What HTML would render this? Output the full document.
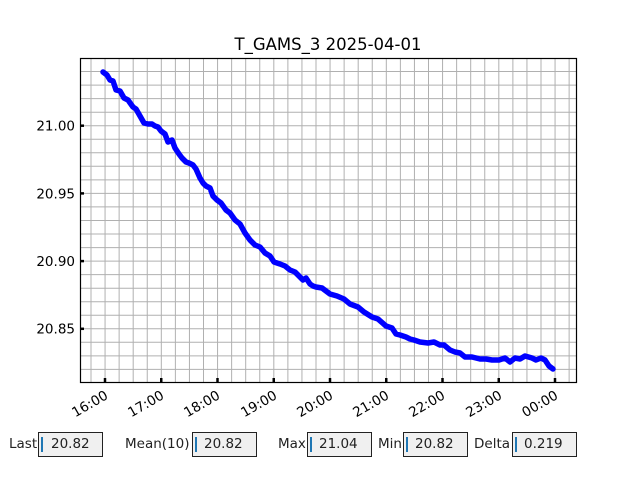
<!DOCTYPE html>
<html><head><style>
body{margin:0;background:#fff;width:640px;height:480px;overflow:hidden;font-family:"DejaVu Sans","Liberation Sans",sans-serif}
</style></head><body>
<svg width="640" height="480" xmlns="http://www.w3.org/2000/svg" style="position:absolute;left:0;top:0">
<rect width="640" height="480" fill="#fff"/>
<path stroke="#b0b0b0" stroke-width="1" fill="none" d="
M91,58V382 M105.06,58V382 M119.13,58V382 M133.19,58V382 M147.25,58V382 M161.31,58V382 M175.38,58V382 M189.44,58V382 M203.5,58V382 M217.56,58V382 M231.63,58V382 M245.69,58V382 M259.75,58V382 M273.81,58V382 M287.88,58V382 M301.94,58V382 M316,58V382 M330.06,58V382 M344.13,58V382 M358.19,58V382 M372.25,58V382 M386.31,58V382 M400.38,58V382 M414.44,58V382 M428.5,58V382 M442.56,58V382 M456.63,58V382 M470.69,58V382 M484.75,58V382 M498.81,58V382 M512.88,58V382 M526.94,58V382 M541,58V382 M555.06,58V382 M569.13,58V382
M80,71.5H576 M80,85.1H576 M80,98.6H576 M80,112.2H576 M80,125.7H576 M80,139.2H576 M80,152.8H576 M80,166.3H576 M80,179.9H576 M80,193.4H576 M80,206.9H576 M80,220.5H576 M80,234H576 M80,247.6H576 M80,261.1H576 M80,274.6H576 M80,288.2H576 M80,301.7H576 M80,315.3H576 M80,328.8H576 M80,342.3H576 M80,355.9H576 M80,369.4H576"/>
<g stroke="#000" stroke-width="2.5">
<line x1="80" y1="125.7" x2="84" y2="125.7"/><line x1="80" y1="193.4" x2="84" y2="193.4"/>
<line x1="80" y1="261.1" x2="84" y2="261.1"/><line x1="80" y1="328.8" x2="84" y2="328.8"/>
<line x1="105" y1="382" x2="105" y2="378"/><line x1="161.25" y1="382" x2="161.25" y2="378"/>
<line x1="217.5" y1="382" x2="217.5" y2="378"/><line x1="273.75" y1="382" x2="273.75" y2="378"/>
<line x1="330" y1="382" x2="330" y2="378"/><line x1="386.25" y1="382" x2="386.25" y2="378"/>
<line x1="442.5" y1="382" x2="442.5" y2="378"/><line x1="498.75" y1="382" x2="498.75" y2="378"/>
<line x1="555" y1="382" x2="555" y2="378"/>
</g>
<polyline fill="none" stroke="#0000ff" stroke-width="5.5" stroke-linejoin="round" stroke-linecap="round"
points="103,72 107,75 110,80 113,81 116,90 120,91 124,98 128,100 133,107 136,109 140,116 144,123 148,124 152,124 155,126 158,127 161,131 165,134 168,142 172,140 175,148 179,154 182,158 186,162 189,163 193,165 196,169 200,178 203,183 206,186 210,188 213,196 217,200 221,203 226,210 230,213 235,220 240,224 245,233 250,240 255,245 260,247 265,253 270,256 274,262 280,264 285,266 290,270 295,272 299,276 303,280 306,278 310,284 313,286 316,287 322,288 330,294 337,296 344,299 350,304 358,307 364,312 372,317 378,319 386,326 392,328 396,334 400,335 406,337 410,339 414,340 420,342 428,343 434,342 440,345 444,345 450,350 455,352 460,353 465,357 472,357 480,359 486,359 492,360 499,360 505,358 510,362 515,358 520,359 525,356 532,358 536,360 541,358 545,360 549,366 553,369"/>
<rect x="80.5" y="58.5" width="496" height="324" fill="none" stroke="#000" stroke-width="1.2"/>
<g font-size="13.5" fill="#000" text-anchor="end">
<text x="75" y="130.5">21.00</text><text x="75" y="198.5">20.95</text>
<text x="75" y="266">20.90</text><text x="75" y="333.5">20.85</text>
</g>
<text x="328" y="50" font-size="16.5" text-anchor="middle">T_GAMS_3 2025-04-01</text>
<g font-size="13.5" text-anchor="end">
<text transform="translate(109,398) rotate(-30)">16:00</text>
<text transform="translate(165,398) rotate(-30)">17:00</text>
<text transform="translate(221,398) rotate(-30)">18:00</text>
<text transform="translate(278,398) rotate(-30)">19:00</text>
<text transform="translate(334,398) rotate(-30)">20:00</text>
<text transform="translate(390,398) rotate(-30)">21:00</text>
<text transform="translate(446,398) rotate(-30)">22:00</text>
<text transform="translate(503,398) rotate(-30)">23:00</text>
<text transform="translate(559,398) rotate(-30)">00:00</text>
</g>
<g font-size="13.5" fill="#222">
<text x="9" y="448">Last</text>
<text x="125" y="448">Mean(10)</text>
<text x="278" y="448">Max</text>
<text x="378" y="448">Min</text>
<text x="474" y="448">Delta</text>
</g>
<g fill="#f0f0f0" stroke="#222" stroke-width="1">
<rect x="38.5" y="432.5" width="64" height="24"/>
<rect x="192.5" y="432.5" width="64" height="24"/>
<rect x="307.5" y="432.5" width="64" height="24"/>
<rect x="403.5" y="432.5" width="64" height="24"/>
<rect x="512.5" y="432.5" width="64" height="24"/>
</g>
<g fill="#1f77b4">
<rect x="41" y="437" width="2" height="15"/><rect x="195" y="437" width="2" height="15"/>
<rect x="310" y="437" width="2" height="15"/><rect x="406" y="437" width="2" height="15"/>
<rect x="515" y="437" width="2" height="15"/>
</g>
<g font-size="13.5" fill="#222">
<text x="51" y="448">20.82</text>
<text x="204" y="448">20.82</text>
<text x="319" y="448">21.04</text>
<text x="415" y="448">20.82</text>
<text x="524" y="448">0.219</text>
</g>
</svg>
</body></html>
